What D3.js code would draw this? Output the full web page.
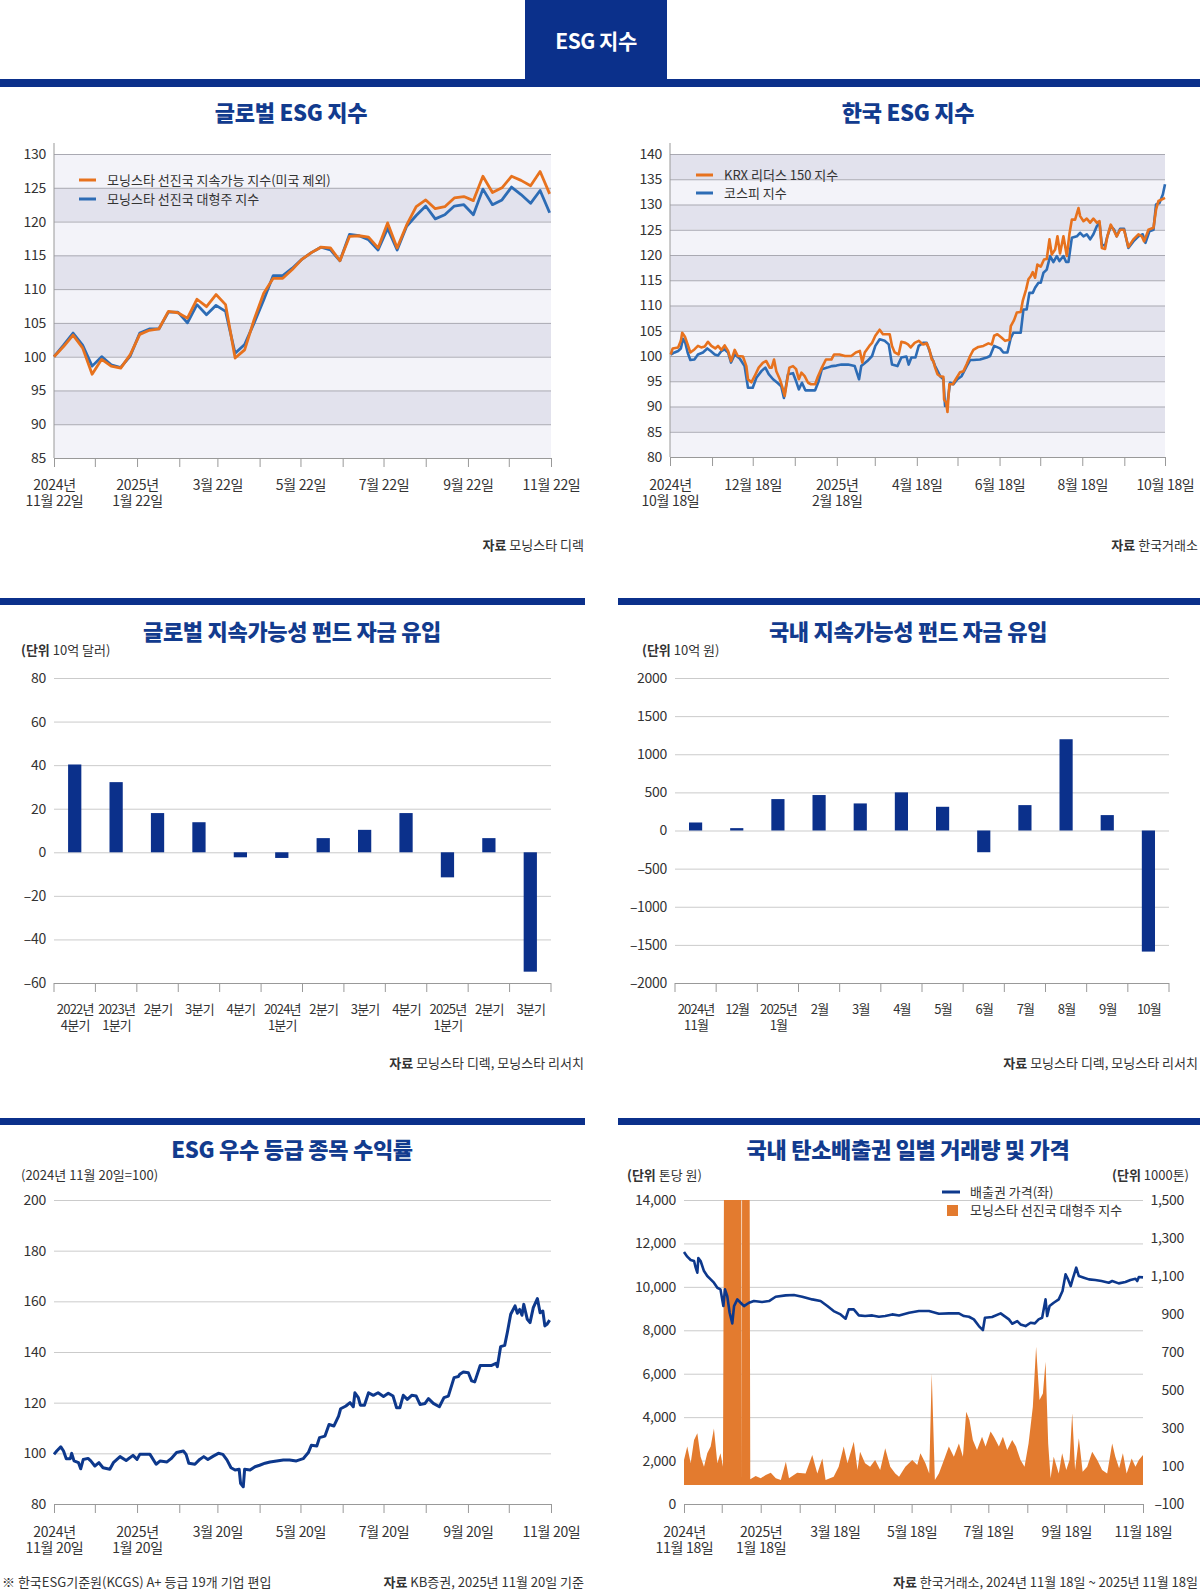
<!DOCTYPE html>
<meta charset="utf-8">

<style>

body {
  margin: 0;
  background: #fff;
}

svg text {
  font-family: "Noto Sans CJK KR", "Noto Sans", sans-serif;
}

.title {
  font-size: 22px;
  font-weight: 900;
  fill: #123b8e;
  text-anchor: middle;
  letter-spacing: -0.3px;
}

.note {
  font-size: 13px;
  fill: #333;
}

.axis text {
  font-family: "Noto Sans CJK KR", "Noto Sans", sans-serif;
  font-size: 14px;
  fill: #333;
  letter-spacing: -0.3px;
}

.axis.cat text {
  font-size: 13px;
  letter-spacing: -0.8px;
}

</style>
<svg width="1200" height="1590"></svg>
<script src="https://d3js.org/d3.v7.min.js"></script>
<script>

// ---------- data ----------

// 글로벌 ESG 지수 (weekly from 2024-11-22)
var sustainableExUS = [100,101.5,103.2,101.3,97.4,99.6,98.6,98.3,100.3,103.3,103.9,104.1,106.7,106.5,105.7,108.5,107.4,109.2,107.7,99.8,
  101.0,105.5,109.4,111.6,111.6,112.9,114.4,115.4,116.2,116.1,114.2,117.8,117.9,117.7,116.1,119.8,116.1,119.5,122.2,123.2,
  121.9,122.2,123.5,123.7,123.1,126.7,124.3,125.0,126.7,126.1,125.3,127.4,124.1];
var developedLarge = [100,101.7,103.5,101.7,98.6,100.0,98.8,98.4,100.1,103.5,104.1,104.1,106.6,106.6,105.0,107.7,106.2,107.6,106.7,100.5,
  101.8,105.0,108.4,112.0,112.0,113.1,114.4,115.4,116.2,115.8,114.2,118.1,117.9,117.3,115.8,119.0,115.8,119.3,120.9,122.3,
  120.4,121.0,122.3,122.5,121.0,124.8,122.5,123.2,125.1,124.0,122.7,124.6,121.3];
var globalTickLabels = ["2024년\n11월 22일","","2025년\n1월 22일","","3월 22일","","5월 22일","","7월 22일","","9월 22일","","11월 22일"];

// 한국 ESG 지수 ([days since 2024-10-18, value])
var krxLeaders = [[0.5,100.3],[2,101.5],[6,101.7],[8,103.0],[9,104.6],[11,103.8],[13,102.3],[15,100.7],[18,101.3],[20.6,102.0],
  [23,101.7],[25.6,101.9],[28,102.8],[30.5,102.0],[33.4,101.5],[35.4,102.0],[37.9,101.2],[40.3,102.1],[42.8,101.0],[45,99.0],
  [47.7,101.2],[50,100.0],[53.8,99.9],[56.3,98.0],[57.5,95.4],[60,94.8],[62.4,96.0],[65.4,97.7],[68.6,98.7],[71,99.0],
  [73.5,97.7],[75,97.7],[76.7,99.3],[78.4,97.0],[81,95.4],[83,93.7],[84.6,92.1],[86.5,95.4],[88,97.7],[90.7,98.0],
  [93,97.4],[95,95.4],[96.9,96.7],[99.3,96.0],[101.8,94.7],[104,94.4],[107,94.4],[109,95.9],[112,97.7],[115,99.3],
  [119,99.3],[121,100.3],[125,100.3],[129,100.0],[133.7,100.0],[137,100.7],[140,101.0],[141.8,98.7],[143.6,100.7],[147,102.0],
  [149,102.6],[151.4,104.0],[154.6,105.2],[157,104.3],[162,104.3],[163.7,102.0],[165.7,100.7],[168.6,100.3],[170.6,102.8],[173.6,102.6],
  [175.5,102.3],[177.5,101.7],[180.4,102.6],[183.4,103.0],[186.6,102.3],[189.3,102.5],[191.3,101.3],[193,99.3],[194.2,99.0],[195.5,97.7],
  [197.2,96.4],[199.2,96.0],[201.6,95.9],[202.1,91.4],[203.6,90.8],[204.6,88.9],[206,94.4],[208.5,94.4],[211.4,95.7],[213.9,96.8],
  [216.4,97.0],[218.8,98.4],[221.3,100.0],[223.7,101.2],[227.4,101.8],[231.1,102.0],[234.8,102.5],[237.3,102.3],[239,104.0],[241.4,104.3],
  [244.6,103.6],[247.1,103.0],[250.3,103.2],[251.3,105.9],[253.7,107.1],[255.7,108.6],[258.6,108.7],[260.1,110.9],[262.6,113.2],[264.3,115.2],
  [266,115.8],[267.5,116.6],[269.2,115.5],[270.9,118.1],[273.4,117.7],[275.8,119.1],[277.8,119.2],[279.8,123.1],[281.5,120.1],[284,121.1],
  [285.7,123.7],[287.6,120.3],[290.1,123.7],[292.6,119.8],[294.5,124.1],[296.3,127.0],[298.7,127.0],[301.2,129.3],[302.4,127.7],[304.9,126.7],
  [307.3,127.2],[309.8,126.4],[312.2,127.2],[314.7,126.4],[316.7,126.7],[318.4,121.4],[320.8,121.2],[322.5,123.7],[325,126.0],[327,125.0],
  [329.4,123.7],[331.9,125.0],[334.8,125.0],[338,121.6],[341.7,123.1],[345.4,124.1],[347.9,123.7],[349.6,122.7],[352.8,125.0],[356.5,125.4],
  [358.4,129.0],[360.2,130.7],[362.6,131.0],[365,131.3]];
var kospi = [[0.5,100.3],[3.4,100.7],[6,101.0],[8,101.5],[9.6,103.4],[11.3,102.6],[13,100.7],[15,99.2],[18,99.3],[20.6,100.3],
  [24.3,100.7],[27.5,101.5],[30,101.0],[33,100.3],[35.4,100.1],[37.9,101.0],[40.3,101.3],[42.8,100.7],[45,98.7],[47.7,100.3],
  [51.4,99.5],[55,98.0],[57.5,93.7],[61,93.7],[63.7,95.7],[67.4,97.0],[70.3,97.7],[72.8,96.4],[76,95.4],[79.2,94.7],
  [82,94.0],[84,91.7],[87,96.4],[90.7,96.6],[93,95.0],[95,93.4],[97.3,94.7],[99.8,93.2],[107,93.2],[109.6,95.0],
  [112,97.4],[116,97.7],[119.5,98.0],[122.7,98.1],[126.4,98.3],[131.3,98.3],[136.2,98.0],[139.4,95.4],[141,98.0],[145.5,99.0],
  [149,100.0],[151.4,102.0],[154.6,103.3],[158.3,103.0],[161.3,102.3],[163.7,98.3],[167.7,98.0],[170.6,99.7],[174.3,99.9],[176,98.3],
  [178,99.7],[181,99.7],[183.4,102.0],[186.6,102.6],[189.3,102.6],[193,99.7],[195.5,98.0],[199.2,96.0],[201.6,95.4],[202.8,90.1],
  [204.6,90.8],[206.5,94.7],[209,94.4],[211.9,95.4],[215,96.0],[218.8,98.0],[221.3,99.2],[223.7,99.2],[228.6,99.3],[233.6,99.7],
  [236,100.0],[239,102.0],[243.4,101.5],[245.8,100.7],[248.8,100.7],[251.3,103.6],[253.2,104.6],[258.6,104.6],[260.6,109.2],[263,109.2],
  [265,112.5],[267.5,112.5],[269.2,113.5],[271.7,114.5],[273.4,114.5],[275.4,116.5],[277.8,117.1],[280.3,119.8],[282.7,118.6],[285.2,119.8],
  [287.2,118.8],[290.1,119.8],[292.1,118.6],[293.8,118.6],[296.3,123.4],[300,123.7],[302.4,124.4],[304.9,123.7],[307.3,124.1],[309.8,123.1],
  [312.2,124.1],[314.7,125.7],[316.7,126.4],[318.4,122.1],[320.8,121.8],[322.5,123.7],[325,125.7],[327.5,125.0],[329.4,123.7],[331.9,125.2],
  [334.8,125.2],[338,121.4],[341.7,122.7],[345.4,123.7],[348.6,124.1],[350.6,122.4],[353.5,124.7],[356.5,125.0],[358.4,130.0],[360.9,130.3],
  [363.4,132.0],[365,134.0]];
var koreaTickLabels = ["2024년\n10월 18일","","12월 18일","","2025년\n2월 18일","","4월 18일","","6월 18일","","8월 18일","","10월 18일"];

// 글로벌 지속가능성 펀드 자금 유입 (10억 달러)
var globalQuarters = ["2022년\n4분기","2023년\n1분기","2분기","3분기","4분기","2024년\n1분기","2분기","3분기","4분기","2025년\n1분기","2분기","3분기"];
var globalFlows = [40.3, 32.2, 18, 13.8, -2.3, -2.6, 6.5, 10.3, 18, -11.5, 6.5, -54.8];

// 국내 지속가능성 펀드 자금 유입 (10억 원)
var domesticMonths = ["2024년\n11월","12월","2025년\n1월","2월","3월","4월","5월","6월","7월","8월","9월","10월"];
var domesticFlows = [105, 31, 412, 465, 355, 500, 311, -285, 333, 1197, 202, -1588];

// ESG 우수 등급 종목 수익률 ([days since 2024-11-20, index])
var esgTopReturn = [[0,99.6],[2,100.9],[5,102.6],[7,100.9],[9,97.9],[12,97.9],[13,100],[14.7,97.0],[18,96.3],[19.6,93.9],
  [21.5,97.6],[25,98.0],[27,97.0],[30,95.0],[33,96.3],[36,94.3],[41,93.7],[43.6,96.3],[48.5,98.7],[53,97.2],
  [58,99.2],[61,97.6],[63,99.6],[70.5,99.6],[75,95.7],[78,97.0],[83,96.6],[86,97.9],[90,100.3],[95,100.9],
  [97,99.6],[99,96.1],[103.5,95.7],[107,97.6],[110,98.7],[113,97.6],[117,98.9],[120.7,100],[124,99.6],[127,97.4],
  [130,94.3],[133,93.4],[136,93.7],[137,88.2],[139,86.8],[140,93.7],[144,93.4],[147.6,94.7],[151,95.3],[155,96.1],
  [158.6,96.6],[163.5,97.0],[168.4,97.4],[173,97.4],[178,97.0],[183,97.9],[186.8,100.3],[189,103.2],[193,102.9],[195,106.2],
  [199,106.8],[202,111.4],[205.6,110.8],[209,114.7],[210.5,117.6],[214.4,118.7],[217.4,120.0],[219.8,118.4],[221,123.9],[223.5,122.0],
  [225,119.0],[228,119.0],[231,123.9],[234.5,122.9],[238,123.9],[242,122.4],[245.5,123.7],[249,122.6],[251.6,118.0],[254,118.0],
  [256.5,122.9],[259.5,121.3],[262.7,122.9],[266,122.6],[268.8,119.3],[272.5,119.7],[275,121.6],[278.6,119.7],[283,118.4],[286.4,122.0],
  [289.6,122.6],[293.8,129.9],[297,130.3],[298,131.2],[300.6,132.1],[304.3,131.8],[306.7,128.6],[309,128.2],[313,134.7],[317.7,134.7],
  [321.4,134.7],[324.6,135.5],[325.6,134.2],[328,142.1],[331,142.6],[333,147.9],[335.4,154.9],[338.6,158.2],[340.3,155.3],[342,156.8],
  [343.7,154.5],[345,158.8],[347.6,152.9],[349.6,151.6],[352,157.5],[355,161.1],[357,155.5],[359,156.2],[360.5,150.3],[362,150.9],
  [364,152.6]];
var esgTickLabels = ["2024년\n11월 20일","","2025년\n1월 20일","","3월 20일","","5월 20일","","7월 20일","","9월 20일","","11월 20일"];

// 국내 탄소배출권 ([days since 2024-11-18, value])
var permitPrice = [[0,11604],[2.6,11389],[5.3,11235],[8,11189],[9.3,10882],[10.6,10652],[11.4,11327],[13.2,11189],[15.9,10728],[18.5,10498],
  [21.2,10344],[23.8,10191],[26.5,9960],[29,9884],[31.3,9116],[32.6,9884],[34.4,9576],[36.3,8808],[38.4,8317],[39.8,9116],
  [42.4,9423],[45,9269],[47.7,9116],[51.7,9269],[55.6,9346],[62,9300],[67.6,9346],[72.9,9546],[80.8,9607],[87.4,9622],
  [94,9546],[102,9423],[108.6,9346],[114,9116],[119,8885],[124.5,8732],[128.5,8532],[131,8962],[135,8962],[139,8685],
  [144,8655],[149.7,8685],[155,8624],[160,8655],[165.6,8732],[171,8685],[179,8808],[186.8,8885],[194.8,8885],[202.7,8762],
  [210.6,8778],[218.6,8778],[222.6,8655],[226.6,8624],[230.5,8501],[234.5,8194],[237.7,8010],[239.3,8578],[245,8609],[251.8,8778],
  [258.4,8501],[261,8302],[265,8424],[267.6,8271],[271.6,8194],[275.6,8347],[279,8317],[282,8501],[284.8,8578],[287.5,9423],
  [288.8,8655],[290.7,9116],[294,9269],[298,9423],[301,9807],[303.4,10575],[305.4,10344],[307.5,10037],[309,10344],[311.9,10882],
  [314,10498],[318,10421],[322,10344],[327,10314],[332,10268],[337.8,10191],[340.5,10268],[345.7,10160],[351,10221],[355,10314],
  [359,10375],[360.4,10268],[361.7,10452],[365,10436]];
var tradeVolume = [[0,132],[2.6,202],[5.3,114],[8,237],[10.6,272],[13.2,149],[15.9,96],[18.5,167],[21.2,202],[23.8,298],
  [26.5,114],[29,167],[31,96],[31.8,1600],[45.6,1600],[45.9,40],[46.2,1600],[52.2,1600],[52.7,30],[57,47],[61,35],[65,53],[69,65],
  [73,35],[77,26],[81,123],[83.5,35],[90,65],[96.7,61],[102,158],[106,61],[110,140],[112.6,26],
  [119,44],[123,96],[127,202],[130,114],[135,228],[138,79],[140,175],[144,114],[148,96],[152,132],
  [156,79],[160,193],[164,96],[168,61],[171,44],[176,96],[181.5,132],[185.5,105],[188,167],[192,114],
  [195,61],[197,588],[199.5,26],[202.7,61],[206.7,132],[210.6,202],[214.6,149],[218.6,219],[221.8,149],[224.4,386],
  [227,342],[229.7,237],[233,184],[237,254],[239.8,202],[243.8,281],[246.4,254],[250.4,202],[253.6,254],[257,184],
  [261,237],[264,202],[267.6,132],[270.8,96],[274,219],[277.4,412],[280,728],[282.7,447],[285.4,482],[287.5,649],
  [289.6,219],[291.5,35],[294,149],[298,61],[300.7,167],[304,79],[306.6,132],[308.7,377],[311,79],[314,246],
  [317,70],[320.6,96],[324.6,175],[328.6,132],[332.5,79],[336.5,61],[340.5,219],[343,149],[346,88],[349,167],
  [352,61],[356,140],[359,96],[361.7,132],[365,158]];
var carbonTickLabels = ["2024년\n11월 18일","","2025년\n1월 18일","","3월 18일","","5월 18일","","7월 18일","","9월 18일","","11월 18일"];

// ---------- drawing ----------

var svg = d3.select("svg");
var NAVY = "#0b308b", ORANGE = "#e7721e", BLUE = "#2d6cb5", DEEP = "#0d388c",
    BAND_LIGHT = "#f3f3f9", BAND_DARK = "#e2e2ed";

function dayDate(start, d) { return new Date(+start + d * 864e5); }
function months(start) { return d3.range(13).map(function(m) { return d3.timeMonth.offset(start, m); }); }
function dash(v) { return v < 0 ? "–" + d3.format(",")(-v) : d3.format(",")(v); }

function note(x, y, bold, rest, anchor) {
  var t = svg.append("text").attr("class", "note").attr("x", x).attr("y", y)
      .attr("text-anchor", anchor || "start");
  if (bold) t.append("tspan").attr("font-weight", 700).text(bold);
  t.append("tspan").text(rest);
  return t;
}

function title(x, y, s) {
  svg.append("text").attr("class", "title").attr("x", x).attr("y", y).text(s);
}

// two-line tick labels under an axis
function splitLabels(g, labels, base) {
  g.selectAll(".tick text").each(function(d, i) {
    var t = d3.select(this).attr("dy", null).attr("y", base).text(null);
    (labels[i] || "").split("\n").forEach(function(s, k) {
      t.append("tspan").attr("x", 0).attr("dy", k ? 16 : 0).text(s);
    });
  });
}

function yGrid(x0, x1, y, ticks, fmt, color) {
  var g = svg.append("g").attr("class", "axis")
      .attr("transform", "translate(" + x0 + ",0)")
      .call(d3.axisLeft(y).tickValues(ticks).tickSize(-(x1 - x0)).tickPadding(8).tickFormat(fmt));
  g.select(".domain").remove();
  g.selectAll(".tick line").attr("stroke", color);
  return g;
}

function xDateAxis(x, yPos, ticks, labels, base) {
  var g = svg.append("g").attr("class", "axis")
      .attr("transform", "translate(0," + yPos + ")")
      .call(d3.axisBottom(x).tickValues(ticks).tickSize(9).tickSizeOuter(0));
  g.select(".domain").attr("stroke", "#999");
  g.selectAll(".tick line").attr("stroke", "#999");
  splitLabels(g, labels, base);
  return g;
}

function bandRects(x0, x1, y, ticks) {
  svg.append("g").selectAll("rect").data(d3.pairs(ticks)).join("rect")
      .attr("x", x0).attr("width", x1 - x0)
      .attr("y", function(d) { return y(d[1]); })
      .attr("height", function(d) { return y(d[0]) - y(d[1]); })
      .attr("fill", function(d, i) { return i % 2 ? BAND_DARK : BAND_LIGHT; });
}

function legendLine(x, y, color, s) {
  svg.append("line").attr("x1", x).attr("x2", x + 17).attr("y1", y).attr("y2", y)
      .attr("stroke", color).attr("stroke-width", 3);
  svg.append("text").attr("class", "note").attr("x", x + 28).attr("y", y + 5).text(s);
}

function drawLine(data, xf, yf, color, w) {
  svg.append("path").datum(data)
      .attr("d", d3.line().x(xf).y(yf))
      .attr("fill", "none").attr("stroke", color).attr("stroke-width", w)
      .attr("stroke-linejoin", "round");
}

// header
svg.append("rect").attr("x", 525).attr("y", 0).attr("width", 142).attr("height", 80).attr("fill", NAVY);
svg.append("rect").attr("x", 0).attr("y", 79).attr("width", 1200).attr("height", 8).attr("fill", NAVY);
svg.append("text").attr("x", 596).attr("y", 49).attr("text-anchor", "middle")
    .attr("font-size", 21).attr("font-weight", 700).attr("fill", "#fff").attr("letter-spacing", "-0.5px")
    .text("ESG 지수");

// ---- 글로벌 ESG 지수 ----
(function() {
  var start = new Date(2024, 10, 22), end = new Date(2025, 10, 22);
  var x = d3.scaleTime().domain([start, end]).range([54, 551]);
  var y = d3.scaleLinear().domain([85, 130]).range([458, 154]);
  var ticks = d3.range(85, 131, 5);
  title(291, 121, "글로벌 ESG 지수");
  bandRects(54, 551, y, ticks);
  yGrid(54, 551, y, ticks, d3.format("d"), "#a9a9b2");
  svg.append("line").attr("x1", 54).attr("x2", 54).attr("y1", 143).attr("y2", 458).attr("stroke", "#999");
  xDateAxis(x, 458, months(start), globalTickLabels, 32);
  var xf = function(d, i) { return x(d3.timeDay.offset(start, 7 * i)); };
  drawLine(developedLarge, xf, y, BLUE, 2.8);
  drawLine(sustainableExUS, xf, y, ORANGE, 2.8);
  legendLine(79, 180, ORANGE, "모닝스타 선진국 지속가능 지수(미국 제외)");
  legendLine(79, 199, BLUE, "모닝스타 선진국 대형주 지수");
  note(584, 550, "자료", " 모닝스타 디렉", "end");
})();

// ---- 한국 ESG 지수 ----
(function() {
  var start = new Date(2024, 9, 18), end = new Date(2025, 9, 18);
  var x = d3.scaleTime().domain([start, end]).range([670, 1165]);
  var y = d3.scaleLinear().domain([80, 140]).range([457, 154]);
  var ticks = d3.range(80, 141, 5);
  title(908, 121, "한국 ESG 지수");
  bandRects(670, 1165, y, ticks);
  yGrid(670, 1165, y, ticks, d3.format("d"), "#a9a9b2");
  svg.append("line").attr("x1", 670).attr("x2", 670).attr("y1", 143).attr("y2", 457).attr("stroke", "#999");
  xDateAxis(x, 457, months(start), koreaTickLabels, 33);
  var xf = function(d) { return x(dayDate(start, d[0])); },
      yf = function(d) { return y(d[1]); };
  drawLine(kospi, xf, yf, BLUE, 2.6);
  drawLine(krxLeaders, xf, yf, ORANGE, 2.6);
  legendLine(696, 175, ORANGE, "KRX 리더스 150 지수");
  legendLine(696, 193, BLUE, "코스피 지수");
  note(1198, 550, "자료", " 한국거래소", "end");
})();

// ---- bar panels ----
function barPanel(x0, x1, cats, values, yDomain, yStep, fmt) {
  var x = d3.scaleBand().domain(d3.range(cats.length)).range([x0, x1])
      .paddingInner(0.68).paddingOuter(0.34);
  var y = d3.scaleLinear().domain(yDomain).range([983, 678]);
  var ticks = d3.range(yDomain[0], yDomain[1] + 1, yStep);
  var g = yGrid(x0, x1, y, ticks, fmt, "#cbcbcb");
  g.selectAll(".tick line").filter(function(d) { return d === yDomain[0]; }).attr("stroke", "#999");
  // ticks at category boundaries
  var edges = d3.range(cats.length + 1).map(function(i) { return x0 + i * x.step(); });
  svg.append("g").selectAll("line").data(edges).join("line")
      .attr("x1", function(d) { return d; }).attr("x2", function(d) { return d; })
      .attr("y1", 983).attr("y2", 992).attr("stroke", "#999");
  svg.append("g").selectAll("rect").data(values).join("rect")
      .attr("x", function(d, i) { return x(i); })
      .attr("width", x.bandwidth())
      .attr("y", function(d) { return y(Math.max(0, d)); })
      .attr("height", function(d) { return Math.abs(y(d) - y(0)); })
      .attr("fill", NAVY);
  var xa = svg.append("g").attr("class", "axis cat").attr("transform", "translate(0,983)")
      .call(d3.axisBottom(d3.scalePoint().domain(d3.range(cats.length))
        .range([x(0) + x.bandwidth() / 2, x(cats.length - 1) + x.bandwidth() / 2])).tickSize(0));
  xa.select(".domain").remove();
  splitLabels(xa, cats, 31);
}

svg.append("rect").attr("x", 0).attr("y", 598).attr("width", 585).attr("height", 7).attr("fill", NAVY);
svg.append("rect").attr("x", 618).attr("y", 598).attr("width", 582).attr("height", 7).attr("fill", NAVY);
title(292, 640, "글로벌 지속가능성 펀드 자금 유입");
title(908, 640, "국내 지속가능성 펀드 자금 유입");
note(21, 655, "(단위", " 10억 달러)");
note(642, 655, "(단위", " 10억 원)");
barPanel(54, 551, globalQuarters, globalFlows, [-60, 80], 20, dash);
barPanel(675, 1169, domesticMonths, domesticFlows, [-2000, 2000], 500, function(v) { return v < 0 ? "–" + (-v) : v; });
note(584, 1068, "자료", " 모닝스타 디렉, 모닝스타 리서치", "end");
note(1198, 1068, "자료", " 모닝스타 디렉, 모닝스타 리서치", "end");

// ---- ESG 우수 등급 종목 수익률 ----
svg.append("rect").attr("x", 0).attr("y", 1118).attr("width", 585).attr("height", 7).attr("fill", NAVY);
svg.append("rect").attr("x", 618).attr("y", 1118).attr("width", 582).attr("height", 7).attr("fill", NAVY);
(function() {
  var start = new Date(2024, 10, 20), end = new Date(2025, 10, 20);
  var x = d3.scaleTime().domain([start, end]).range([54, 551]);
  var y = d3.scaleLinear().domain([80, 200]).range([1504, 1200]);
  var ticks = d3.range(80, 201, 20);
  title(292, 1158, "ESG 우수 등급 종목 수익률");
  note(21, 1180, null, "(2024년 11월 20일=100)");
  var g = yGrid(54, 551, y, ticks, d3.format("d"), "#cbcbcb");
  g.selectAll(".tick line").filter(function(d) { return d === 80; }).remove();
  xDateAxis(x, 1504, months(start), esgTickLabels, 33);
  drawLine(esgTopReturn, function(d) { return x(dayDate(start, d[0])); },
      function(d) { return y(d[1]); }, DEEP, 3);
  note(2, 1587, null, "※ 한국ESG기준원(KCGS) A+ 등급 19개 기업 편입");
  note(584, 1587, "자료", " KB증권, 2025년 11월 20일 기준", "end");
})();

// ---- 국내 탄소배출권 일별 거래량 및 가격 ----
(function() {
  var start = new Date(2024, 10, 18), end = new Date(2025, 10, 18);
  var x = d3.scaleTime().domain([start, end]).range([684, 1143]);
  var yL = d3.scaleLinear().domain([0, 14000]).range([1504, 1200]);
  var yR = d3.scaleLinear().domain([-100, 1500]).range([1504, 1200]);
  title(908, 1158, "국내 탄소배출권 일별 거래량 및 가격");
  note(627, 1180, "(단위", " 톤당 원)");
  note(1189, 1180, "(단위", " 1000톤)", "end");
  var g = yGrid(684, 1143, yL, d3.range(0, 14001, 2000), d3.format(","), "#cbcbcb");
  g.selectAll(".tick line").filter(function(d) { return d === 0; }).remove();
  var gr = svg.append("g").attr("class", "axis").attr("transform", "translate(1143,0)")
      .call(d3.axisRight(yR).tickValues(d3.range(-100, 1501, 200)).tickSize(0).tickFormat(dash));
  gr.select(".domain").remove();
  gr.selectAll(".tick text").attr("x", 41).attr("text-anchor", "end");
  svg.append("clipPath").attr("id", "clip6").append("rect")
      .attr("x", 684).attr("y", 1200).attr("width", 459).attr("height", 304);
  svg.append("path").datum(tradeVolume).attr("clip-path", "url(#clip6)")
      .attr("d", d3.area().x(function(d) { return x(dayDate(start, d[0])); })
        .y0(yR(0)).y1(function(d) { return yR(d[1]); }))
      .attr("fill", "#e37b2f");
  xDateAxis(x, 1504, months(start), carbonTickLabels, 33);
  drawLine(permitPrice, function(d) { return x(dayDate(start, d[0])); },
      function(d) { return yL(d[1]); }, DEEP, 2.6);
  // legend
  svg.append("line").attr("x1", 942).attr("x2", 960).attr("y1", 1192).attr("y2", 1192)
      .attr("stroke", DEEP).attr("stroke-width", 3);
  svg.append("text").attr("class", "note").attr("x", 970).attr("y", 1197).text("배출권 가격(좌)");
  svg.append("rect").attr("x", 947).attr("y", 1205).attr("width", 11).attr("height", 11).attr("fill", "#e37b2f");
  svg.append("text").attr("class", "note").attr("x", 970).attr("y", 1215).text("모닝스타 선진국 대형주 지수");
  note(1198, 1587, "자료", " 한국거래소, 2024년 11월 18일 ~ 2025년 11월 18일", "end");
})();

</script>
